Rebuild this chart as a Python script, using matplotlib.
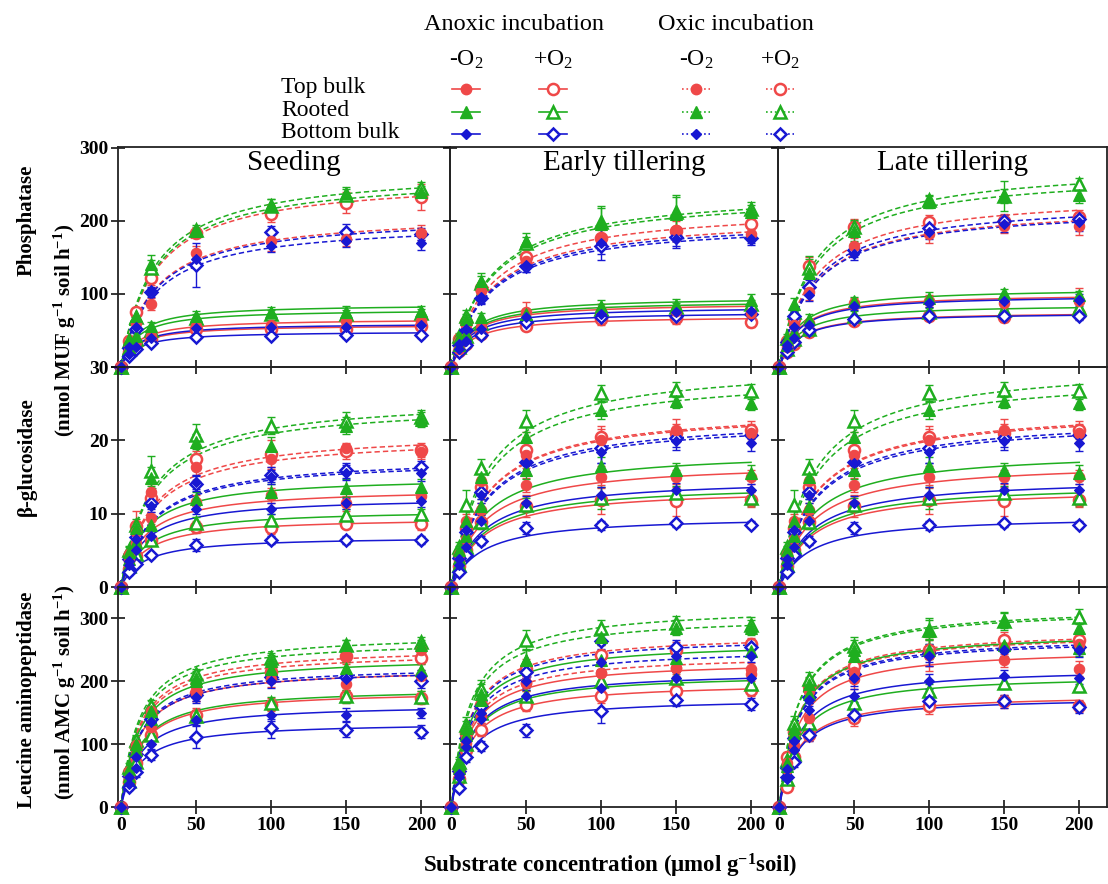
import numpy as np
import matplotlib
matplotlib.use("Agg")
import matplotlib.pyplot as plt

plt.rcParams['font.family'] = ['Liberation Serif', 'DejaVu Serif']
plt.rcParams['mathtext.fontset'] = 'custom'
plt.rcParams['mathtext.rm'] = 'Liberation Serif'
plt.rcParams['mathtext.it'] = 'Liberation Serif:italic'
plt.rcParams['mathtext.bf'] = 'Liberation Serif:bold'
plt.rcParams['mathtext.default'] = 'rm'

# ---------------- data ----------------
substrate = [0, 5, 10, 20, 50, 100, 150, 200]
# series order: soil x incubation x O2
series = ["Top bulk Anoxic -O2", "Top bulk Anoxic +O2", "Top bulk Oxic -O2", "Top bulk Oxic +O2",
          "Rooted Anoxic -O2", "Rooted Anoxic +O2", "Rooted Oxic -O2", "Rooted Oxic +O2",
          "Bottom bulk Anoxic -O2", "Bottom bulk Anoxic +O2", "Bottom bulk Oxic -O2", "Bottom bulk Oxic +O2"]
stages = ["Seeding", "Early tillering", "Late tillering"]

# Phosphatase
phos_seed_y = [[0,22,34,42,56,58,63,63],[0,20,30,38,52,52,52,56],[0,30,60,86,156,173,175,184],[0,35,75,122,184,210,225,233],
               [0,28,42,56,70,75,75,77],[0,25,38,50,67,72,72,74],[0,38,70,141,186,222,238,240],[0,36,68,136,188,220,236,245],
               [0,18,28,40,53,55,55,57],[0,15,24,33,41,43,44,44],[0,28,55,104,148,166,172,170],[0,26,52,102,140,185,185,182]]
phos_seed_err = [[0,3,4,4,5,6,6,6],[0,2,3,4,4,5,5,5],[0,4,6,8,10,14,10,10],[0,4,6,10,6,12,14,18],
                 [0,3,4,5,6,7,8,6],[0,3,4,4,5,6,6,6],[0,4,6,12,6,8,8,8],[0,4,6,10,6,10,8,8],
                 [0,2,3,4,4,5,5,5],[0,2,3,3,3,3,4,4],[0,4,6,6,12,8,8,10],[0,3,6,6,30,8,10,8]]
phos_seed_vmax = [66, 58, 211, 259, 86, 79, 264, 272, 60, 49, 199, 208]
phos_seed_km = [10, 10, 22, 22, 10, 10, 22, 22, 10, 10, 22, 22]

phos_early_y = [[0,25,40,55,75,76,76,74],[0,22,32,45,56,66,67,61],[0,35,58,104,145,175,188,182],[0,38,62,108,150,177,186,196],
                [0,30,45,68,72,83,85,92],[0,28,42,60,70,80,82,86],[0,40,65,118,173,195,210,212],[0,42,70,115,170,198,212,216],
                [0,24,36,52,68,73,75,76],[0,20,30,44,62,68,70,72],[0,32,52,96,140,170,175,175],[0,30,50,94,138,165,178,177]]
phos_early_err = [[0,3,4,5,14,10,8,6],[0,3,4,5,6,8,8,6],[0,4,6,8,10,12,14,10],[0,4,6,8,10,12,14,10],
                  [0,4,5,6,8,8,8,8],[0,3,4,6,6,6,6,6],[0,5,8,10,10,25,26,10],[0,5,8,10,8,20,20,10],
                  [0,3,4,5,5,6,6,6],[0,3,4,4,5,5,6,6],[0,4,6,8,10,24,12,8],[0,4,6,8,8,10,12,8]]
phos_early_vmax = [88, 70, 208, 220, 96, 91, 238, 243, 83, 76, 204, 200]
phos_early_km = [12, 12, 25, 25, 12, 12, 25, 25, 12, 12, 25, 25]

phos_late_y = [[0,28,42,60,87,90,88,90],[0,20,32,48,63,70,68,72],[0,32,58,102,166,182,193,193],[0,36,66,138,192,198,200,205],
               [0,30,48,66,90,95,101,98],[0,24,38,52,70,75,78,81],[0,38,86,128,186,226,234,236],[0,40,75,136,191,228,234,250],
               [0,26,40,58,84,88,90,92],[0,21,34,50,65,70,70,70],[0,30,55,98,155,185,195,198],[0,34,70,109,160,190,200,203]]
phos_late_err = [[0,3,4,6,8,8,8,18],[0,3,4,5,6,6,6,6],[0,4,6,10,10,12,10,12],[0,4,6,12,10,10,10,10],
                 [0,4,10,6,6,8,6,6],[0,3,4,6,6,6,6,6],[0,5,8,24,14,8,20,12],[0,5,8,12,10,8,10,8],
                 [0,3,4,5,6,6,6,8],[0,3,4,5,6,6,6,6],[0,4,6,8,8,10,10,12],[0,4,6,10,10,8,8,8]]
phos_late_vmax = [101, 76, 222, 238, 108, 86, 268, 278, 99, 75, 220, 228]
phos_late_km = [12, 12, 22, 22, 12, 12, 22, 22, 12, 12, 22, 22]

# beta-glucosidase
gluc_seed_y = [[0,3.5,6.0,9.4,11.6,12.5,11.4,12.4],[0,2.5,4.2,6.4,8.2,8.0,8.6,8.6],[0,4.5,7.5,13.0,16.3,17.5,18.9,18.4],[0,4.2,8.3,12.2,17.5,18.1,18.5,18.7],
               [0,3.8,6.2,8.5,12.0,13.0,13.5,13.7],[0,2.8,4.5,6.4,8.7,9.1,9.8,9.9],[0,4.8,8.0,14.8,19.8,19.2,22.0,22.8],[0,5.0,8.5,15.8,20.7,22.0,22.6,23.2],
               [0,3.0,5.0,7.0,10.7,10.7,11.4,11.7],[0,2.0,3.2,4.3,5.7,6.4,6.4,6.4],[0,3.6,6.5,11.0,14.3,15.0,15.6,15.5],[0,3.8,6.8,11.4,14.1,15.3,15.9,16.4]]
gluc_seed_err = [[0,0.5,0.6,0.8,1.0,1.0,1.0,0.8],[0,0.4,0.5,0.6,0.8,0.8,0.6,0.8],[0,0.6,0.8,1.0,1.0,1.2,0.8,1.0],[0,0.6,2.0,1.2,1.0,2.0,1.0,1.0],
                 [0,0.5,0.6,0.8,1.0,1.0,1.2,1.0],[0,0.4,0.5,0.6,0.8,0.8,0.8,0.8],[0,0.6,0.8,1.5,1.0,1.2,1.2,1.0],[0,0.6,0.8,2.0,1.5,1.2,1.2,1.0],
                 [0,0.4,0.5,0.6,0.8,0.8,0.8,0.8],[0,0.3,0.4,0.4,0.8,0.6,0.5,0.5],[0,0.5,0.8,0.8,1.0,1.0,1.0,1.0],[0,0.5,0.8,0.8,1.0,1.0,1.0,0.8]]
gluc_seed_vmax = [13.5, 9.5, 21.3, 20.6, 15.1, 10.6, 25.1, 25.9, 12.3, 6.9, 17.5, 17.8]
gluc_seed_km = [15, 15, 20, 20, 15, 15, 20, 20, 15, 15, 20, 20]

gluc_early_y = [[0,3.5,6.5,10.5,13.9,15.0,15.0,15.0],[0,2.8,5.0,8.9,11.0,11.9,11.7,11.9],[0,4.5,9.0,14.5,18.0,20.0,21.4,21.0],[0,4.5,8.0,13.7,18.7,20.5,21.0,21.4],
                [0,4.0,7.0,11.0,15.9,16.5,15.9,15.6],[0,3.0,5.5,8.9,11.2,12.1,12.8,12.1],[0,5.0,9.0,15.0,20.5,24.1,25.4,25.1],[0,5.5,11.2,16.2,22.6,26.4,26.9,26.7],
                [0,3.0,5.5,9.0,11.4,12.6,13.2,13.2],[0,2.0,4.4,6.3,8.0,8.4,8.7,8.5],[0,3.8,7.8,12.5,16.9,18.4,19.9,19.6],[0,4.0,7.5,13.0,17.0,18.9,20.3,20.7]]
gluc_early_err = [[0,0.5,0.8,1.0,1.0,1.5,1.0,1.0],[0,0.5,0.8,1.0,1.5,2.0,2.0,1.0],[0,0.6,1.0,1.2,2.5,1.5,1.5,1.2],[0,0.6,1.0,1.2,2.5,1.5,1.2,1.2],
                  [0,0.5,0.8,1.0,1.2,1.2,1.0,1.0],[0,0.5,0.8,1.0,1.0,1.5,1.0,1.0],[0,0.6,2.0,1.2,1.5,1.2,1.0,1.0],[0,0.6,2.0,1.2,1.5,1.2,1.0,1.0],
                  [0,0.4,0.8,0.8,1.0,1.0,1.0,0.8],[0,0.4,0.5,0.6,0.8,0.6,0.5,0.5],[0,0.5,0.8,1.0,1.2,1.5,1.2,1.0],[0,0.5,0.8,1.0,1.2,2.0,1.2,1.0]]
gluc_early_vmax = [17.1, 13.5, 24.3, 24.5, 18.7, 14.1, 29.1, 30.6, 14.9, 9.7, 22.9, 23.3]
gluc_early_km = [20, 20, 22, 22, 20, 20, 22, 22, 20, 20, 22, 22]
# the late-tillering glucosidase panel in the source repeats the early-tillering panel
gluc_late_y = gluc_early_y
gluc_late_err = gluc_early_err
gluc_late_vmax = gluc_early_vmax
gluc_late_km = gluc_early_km

# Leucine aminopeptidase
leu_seed_y = [[0,48,85,128,181,203,195,208],[0,40,70,115,147,163,176,174],[0,58,98,152,192,221,240,250],[0,55,95,150,181,215,241,237],
              [0,50,90,140,200,220,221,218],[0,42,72,115,145,165,176,175],[0,60,100,152,206,232,258,258],[0,64,107,160,211,237,258,263],
              [0,36,62,100,139,147,147,149],[0,32,56,83,112,125,123,120],[0,48,80,135,175,200,203,208],[0,50,85,140,178,207,207,200]]
leu_seed_err = [[0,6,8,10,12,12,10,10],[0,5,8,10,10,10,10,10],[0,6,8,10,12,15,12,10],[0,6,8,10,12,15,10,10],
                [0,5,8,10,10,10,10,10],[0,5,8,8,10,10,10,10],[0,6,8,10,10,10,8,8],[0,6,8,10,8,8,8,8],
                [0,5,6,8,10,10,10,8],[0,5,8,8,18,15,12,10],[0,5,8,10,10,10,10,10],[0,5,8,10,10,10,10,10]]
leu_seed_vmax = [222, 186, 255, 248, 240, 190, 267, 277, 164, 135, 222, 226]
leu_seed_km = [12] * 12

leu_early_y = [[0,54,102,144,197,213,221,211],[0,45,90,123,162,176,184,186],[0,54,112,144,197,213,221,219],[0,60,118,162,220,242,250,259],
               [0,62,115,170,234,234,237,248],[0,50,100,150,176,200,205,196],[0,68,125,180,234,270,285,285],[0,72,131,187,266,285,292,290],
               [0,48,95,140,176,189,205,205],[0,30,80,97,122,152,170,164],[0,52,105,150,200,230,240,240],[0,58,110,160,215,264,255,255]]
leu_early_err = [[0,6,8,10,12,12,10,10],[0,6,8,10,10,10,10,10],[0,6,8,10,12,15,12,10],[0,6,8,10,15,15,12,10],
                 [0,6,8,12,15,15,10,10],[0,6,8,10,10,10,10,10],[0,8,12,15,15,12,12,12],[0,8,12,15,15,12,12,12],
                 [0,5,8,10,10,12,10,10],[0,5,8,8,10,18,10,10],[0,6,8,10,10,12,10,10],[0,6,8,10,10,12,10,10]]
leu_early_vmax = [234, 199, 244, 277, 264, 213, 306, 320, 217, 174, 254, 273]
leu_early_km = [12] * 12

leu_late_y = [[0,60,99,141,203,242,234,220],[0,32,80,115,141,160,168,161],[0,70,115,185,215,245,255,260],[0,80,120,193,225,250,266,265],
              [0,65,118,180,240,250,258,253],[0,45,85,133,165,184,197,193],[0,70,125,195,250,280,296,285],[0,75,133,203,256,282,296,303],
              [0,48,90,155,177,200,208,206],[0,48,72,115,147,168,168,159],[0,60,105,170,205,240,250,250],[0,62,110,175,211,245,252,255]]
leu_late_err = [[0,8,10,12,15,25,12,12],[0,6,8,10,12,12,10,10],[0,8,10,12,15,20,12,12],[0,8,10,12,15,25,12,12],
                [0,8,10,12,15,15,12,12],[0,6,8,10,12,12,10,10],[0,8,12,12,15,20,15,15],[0,8,12,12,15,15,12,12],
                [0,6,8,10,10,12,10,10],[0,6,8,10,10,10,10,10],[0,6,8,10,12,15,12,12],[0,6,8,10,12,15,12,12]]
leu_late_vmax = [253, 180, 278, 283, 280, 211, 317, 320, 222, 176, 270, 273]
leu_late_km = [12] * 12

y_limits = [(0, 301), (0, 30), (0, 350)]
y_ticks = [[0, 100, 200, 300], [0, 10, 20, 30], [0, 100, 200, 300]]
y_ticklabels = [["", "100", "200", "300"], ["0", "10", "20", "30"], ["0", "100", "200", "300"]]
x_ticks = [0, 50, 100, 150, 200]

panels = [
    [(phos_seed_y, phos_seed_err, phos_seed_vmax, phos_seed_km),
     (phos_early_y, phos_early_err, phos_early_vmax, phos_early_km),
     (phos_late_y, phos_late_err, phos_late_vmax, phos_late_km)],
    [(gluc_seed_y, gluc_seed_err, gluc_seed_vmax, gluc_seed_km),
     (gluc_early_y, gluc_early_err, gluc_early_vmax, gluc_early_km),
     (gluc_late_y, gluc_late_err, gluc_late_vmax, gluc_late_km)],
    [(leu_seed_y, leu_seed_err, leu_seed_vmax, leu_seed_km),
     (leu_early_y, leu_early_err, leu_early_vmax, leu_early_km),
     (leu_late_y, leu_late_err, leu_late_vmax, leu_late_km)],
]

# ---------------- styles ----------------
RED = '#ef4848'
GREEN = '#1fae1f'
BLUE = '#1818d2'
soil_color = [RED, GREEN, BLUE]
soil_marker = ['o', '^', 'D']
soil_msize = [7.5, 8, 5.5]
dash = (0, (3.5, 2))

def style(i):
    soil = i // 4
    oxic = (i % 4) >= 2
    plus = (i % 2) == 1
    return soil_color[soil], soil_marker[soil], soil_msize[soil], (dash if oxic else '-'), plus

W, H = 1108, 884
fig = plt.figure(figsize=(W / 100, H / 100), dpi=100)
fig.patch.set_facecolor('white')

col_px = [(118, 450), (450, 778), (778, 1107)]
row_px = [(147, 367), (367, 587), (587, 807)]
col_xlim = [(-2, 219), (-1, 218), (-1, 218.5)]

tick_font = dict(family='Liberation Serif', weight='bold', size=14)

for r in range(3):
    for c in range(3):
        x0, x1 = col_px[c]
        y0, y1 = row_px[r]
        ax = fig.add_axes([x0 / W, (H - y1) / H, (x1 - x0) / W, (y1 - y0) / H])
        ax.set_facecolor('none')
        yv, ev, vm, km = panels[r][c]
        xs = np.linspace(0, 200, 300)
        for i in range(12):
            col, mk, ms, ls, plus = style(i)
            fit = vm[i] * xs / (km[i] + xs)
            ax.plot(xs, fit, color=col, lw=1.1, ls=ls, zorder=2)
        for i in range(12):
            col, mk, ms, ls, plus = style(i)
            ax.errorbar(substrate, yv[i], yerr=ev[i], fmt='none', ecolor=col,
                        elinewidth=1.0, capsize=3, capthick=1.0, zorder=3)
        for i in range(12):
            col, mk, ms, ls, plus = style(i)
            if plus:
                ax.plot(substrate, yv[i], ls='none', marker=mk, ms=ms + 0.5, mfc='white',
                        mec=col, mew=1.8, zorder=4, clip_on=False)
            else:
                ax.plot(substrate, yv[i], ls='none', marker=mk, ms=ms, mfc=col,
                        mec=col, mew=0.8, zorder=5, clip_on=False)
        ax.set_xlim(*col_xlim[c])
        ax.set_ylim(*y_limits[r])
        ax.set_xticks(x_ticks)
        ax.set_yticks(y_ticks[r])
        ax.tick_params(direction='inout', length=10, width=1.1, colors='black', pad=2)
        if c == 0:
            ax.set_yticklabels(y_ticklabels[r], fontdict=tick_font)
        else:
            ax.set_yticklabels([])
        if r == 2:
            ax.set_xticklabels([str(t) for t in x_ticks], fontdict=tick_font)
        else:
            ax.set_xticklabels([])
        for s in ax.spines.values():
            s.set_linewidth(1.3)
            s.set_color('#222222')
        if r == 0:
            ax.text(0.53, 0.925, stages[c], transform=ax.transAxes, ha='center', va='center',
                    fontsize=21, family='Liberation Serif')

# ---------------- legend / labels overlay ----------------
ov = fig.add_axes([0, 0, 1, 1])
ov.set_xlim(0, W)
ov.set_ylim(H, 0)
ov.axis('off')
ov.patch.set_visible(False)

ov.text(514, 24, "Anoxic incubation", ha='center', va='center', fontsize=17.5)
ov.text(736, 24, "Oxic incubation", ha='center', va='center', fontsize=17.5)
leg_x = [466, 553, 696, 780]
for xx, lab in zip(leg_x, ["-O$_2$", "+O$_2$", "-O$_2$", "+O$_2$"]):
    ov.text(xx, 60, lab, ha='center', va='center', fontsize=17)
row_y = [89, 112, 134]
for s, (yy, lab) in enumerate(zip(row_y, ["Top bulk", "Rooted", "Bottom bulk"])):
    ov.text(281, yy - 2, lab, ha='left', va='center', fontsize=17)
    for k, xx in enumerate(leg_x):
        col = soil_color[s]
        ls = '-' if k < 2 else ':'
        ov.plot([xx - 14, xx + 14], [yy, yy], color=col, lw=1.2, ls=ls)
        if k % 2 == 1:
            ov.plot([xx], [yy], marker=soil_marker[s], ms=soil_msize[s] + 0.5, mfc='white', mec=col, mew=1.8, ls='none')
        else:
            ov.plot([xx], [yy], marker=soil_marker[s], ms=soil_msize[s], mfc=col, mec=col, ls='none')

lab_font = dict(fontsize=15, fontweight='bold', rotation=90, ha='center', va='center')
ov.text(27, 220, "Phosphatase", **lab_font)
ov.text(65, 330, r"(nmol MUF g$^{\mathbf{-1}}$ soil h$^{\mathbf{-1}}$)", **lab_font)
ov.text(27, 457, "β-glucosidase", **lab_font)
ov.text(27, 700, "Leucine aminopeptidase", **lab_font)
ov.text(65, 692, r"(nmol AMC g$^{\mathbf{-1}}$ soil h$^{\mathbf{-1}}$)", **lab_font)
ov.text(610, 866, r"Substrate concentration (μmol g$^{\mathbf{-1}}$soil)", ha='center', va='center',
        fontsize=16.5, fontweight='bold')

fig.savefig("out.png", dpi=100, facecolor='white')
